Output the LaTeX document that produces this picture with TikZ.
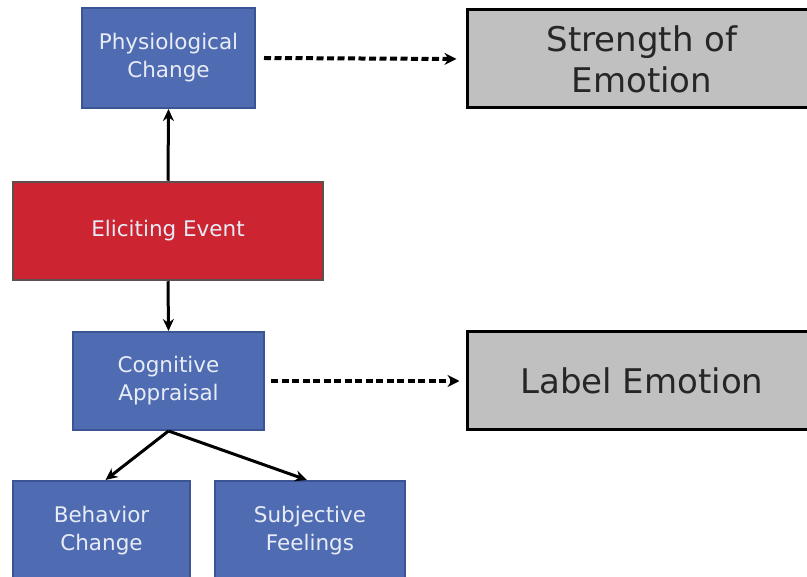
\documentclass[tikz,border=0pt]{standalone}
\usepackage{fontspec}
\setmainfont{DejaVu Sans}
\usetikzlibrary{arrows.meta}
\definecolor{boxblue}{RGB}{79,108,178}
\definecolor{boxblueedge}{RGB}{58,84,148}
\definecolor{boxred}{RGB}{204,36,48}
\definecolor{boxrededge}{RGB}{95,80,80}
\definecolor{boxgray}{RGB}{192,192,192}
\definecolor{lighttext}{RGB}{232,236,246}
\tikzset{
  bluebox/.style={draw=boxblueedge, line width=2pt, fill=boxblue, text=lighttext,
    font=\fontsize{21.5}{28}\selectfont, align=center, inner sep=0pt},
  redbox/.style={draw=boxrededge, line width=2.5pt, fill=boxred, text=lighttext,
    font=\fontsize{21.5}{28}\selectfont, align=center, inner sep=0pt},
  graybox/.style={draw=black, line width=3pt, fill=boxgray, text=black!85,
    font=\fontsize{34}{41}\selectfont, align=center, inner sep=0pt},
  solidarrow/.style={line width=3pt, -{Stealth[length=12pt,width=11pt]}},
  dasharrow/.style={line width=4pt, dash pattern=on 7pt off 3.5pt, -{Stealth[length=12pt,width=12pt]}}
}
\begin{document}
\begin{tikzpicture}[x=1pt,y=-1pt]
\useasboundingbox (0,0) rectangle (807,577);
\clip (0,0) rectangle (807,577);
\fill[white] (0,0) rectangle (807,577);
\node[bluebox, minimum width=173pt, minimum height=100pt] (phys) at (168.5,58) {Physiological\\Change};
\node[graybox, minimum width=350pt, minimum height=98pt] (strength) at (642,59) {Strength of\\Emotion};
\node[redbox, minimum width=310pt, minimum height=98pt] (elicit) at (168,231) {Eliciting Event};
\node[bluebox, minimum width=191pt, minimum height=98pt] (cog) at (168.5,381) {Cognitive\\Appraisal};
\node[graybox, minimum width=350pt, minimum height=98pt] (label) at (642,381) {Label Emotion};
\node[bluebox, minimum width=177pt, minimum height=100pt] (behav) at (101.5,531) {Behavior\\Change};
\node[bluebox, minimum width=190pt, minimum height=100pt] (subj) at (310,531) {Subjective\\Feelings};
\draw[solidarrow] (elicit.north) -- (phys.south);
\draw[solidarrow] (elicit.south) -- (cog.north);
\draw[dasharrow] ([xshift=8pt]phys.east) -- ([xshift=-9pt]strength.west);
\draw[dasharrow] ([xshift=6pt]cog.east) -- ([xshift=-6pt]label.west);
\draw[solidarrow] (cog.south) -- ([xshift=4pt]behav.north);
\draw[solidarrow] (cog.south) -- ([xshift=-3pt]subj.north);
\end{tikzpicture}
\end{document}
